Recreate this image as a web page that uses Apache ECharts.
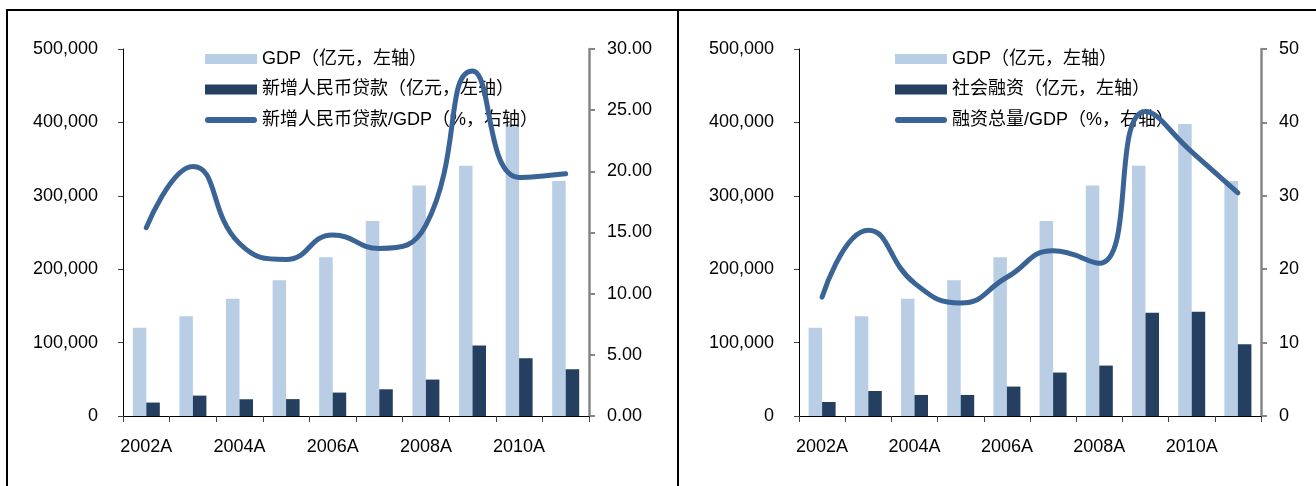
<!DOCTYPE html>
<html>
<head>
<meta charset="utf-8">
<script src="https://cdn.jsdelivr.net/npm/echarts@6/dist/echarts.min.js"></script>
<style>
  html, body { margin: 0; padding: 0; background: #fff; }
  #main { width: 1316px; height: 486px; }
</style>
</head>
<body>
<div id="main"></div>
<script>
	// 数据
	var years = ['2002A', '2003A', '2004A', '2005A', '2006A', '2007A', '2008A', '2009A', '2010A', '2011A'];
	var gdp = [120333, 135823, 159878, 184937, 216314, 265810, 314045, 340903, 397983, 320300]; //GDP 亿元
	var loans = [18300, 27800, 22800, 23000, 31900, 36400, 49600, 96000, 78700, 63700]; //新增人民币贷款 亿元
	var loanRatio = [15.4, 20.4, 14.1, 12.8, 14.8, 13.7, 15.6, 28.2, 19.5, 19.8]; //贷款/GDP %
	var financing = [19100, 34100, 28700, 28700, 40100, 59200, 68700, 140500, 141900, 97800]; //社会融资 亿元
	var financingRatio = [16.2, 25.3, 18.1, 15.4, 18.9, 22.5, 20.8, 41.5, 36.0, 30.4]; //融资总量/GDP %

	var nameGdp = 'GDP（亿元，左轴）';
	var nameLoans = '新增人民币贷款（亿元，左轴）';
	var nameLoanRatio = '新增人民币贷款/GDP（%，右轴）';
	var nameFin = '社会融资（亿元，左轴）';
	var nameFinRatio = '融资总量/GDP（%，右轴）';

	var cLight = '#B9CDE5';
	var cDark = '#243F60';
	var cLine = '#3A6496';
	var font = "'Liberation Sans', Arial, 'Noto Sans CJK SC', sans-serif";
	//图例里的粗线(圆头)
	var lineIcon = 'path://M3,0 L49,0 A3,3 0 0 1 49,6 L3,6 A3,3 0 0 1 3,0 Z';

	var dom = document.getElementById('main');
	var myChart = echarts.init(dom);

	function xAxis(gi) {
		return {
			type: 'category',
			gridIndex: gi,
			data: years,
			axisLine: { show: true, lineStyle: { color: '#000', width: 1 } },
			axisTick: { show: true, interval: 0, length: 6, lineStyle: { color: '#404040' } },
			axisLabel: { interval: 1, margin: 22, color: '#000', fontSize: 18, fontFamily: font },
			splitLine: { show: false }
		};
	}
	function leftAxis(gi) {
		return {
			type: 'value',
			gridIndex: gi,
			min: 0, max: 500000, interval: 100000,
			axisLine: { show: true, lineStyle: { color: '#000', width: 1 } },
			axisTick: { show: true, length: 5, lineStyle: { color: '#404040' } },
			axisLabel: {
				margin: 25, color: '#000', fontSize: 18, fontFamily: font,
				formatter: function (v) { return v.toLocaleString('en-US'); }
			},
			splitLine: { show: false }
		};
	}
	function rightAxis(gi, max, interval, digits) {
		return {
			type: 'value',
			gridIndex: gi,
			position: 'right',
			min: 0, max: max, interval: interval,
			axisLine: { show: true, lineStyle: { color: '#868686', width: 2.5 } },
			axisTick: { show: true, length: 6, lineStyle: { color: '#868686', width: 2 } },
			axisLabel: {
				margin: 18, color: '#000', fontSize: 18, fontFamily: font,
				formatter: function (v) { return v.toFixed(digits); }
			},
			splitLine: { show: false }
		};
	}
	function legend(left, names) {
		return {
			orient: 'vertical',
			left: left, top: 44,
			itemWidth: 52, itemHeight: 10, itemGap: 10.5,
			textStyle: { color: '#000', fontSize: 18, lineHeight: 20, fontFamily: font },
			data: [
				{ name: names[0], icon: 'rect' },
				{ name: names[1], icon: 'rect' },
				{ name: names[2], icon: lineIcon }
			]
		};
	}
	function bars(name, data, color, ai) {
		return {
			name: name, type: 'bar',
			xAxisIndex: ai, yAxisIndex: ai * 2,
			data: data,
			barWidth: 13.5, barGap: '0%',
			itemStyle: { color: color }
		};
	}
	function line(name, data, ai) {
		return {
			name: name, type: 'line',
			xAxisIndex: ai, yAxisIndex: ai * 2 + 1,
			data: data,
			smooth: true, symbol: 'none', z: 5,
			lineStyle: { color: cLine, width: 5, cap: 'round' },
			itemStyle: { color: cLine }
		};
	}

	var option = {
		animation: false,
		grid: [
			{ left: 123, top: 49, width: 466, height: 367 },
			{ left: 799, top: 49, width: 462, height: 367 }
		],
		legend: [
			legend(200, [nameGdp, nameLoans, nameLoanRatio]),
			legend(890, [nameGdp, nameFin, nameFinRatio])
		],
		xAxis: [xAxis(0), xAxis(1)],
		yAxis: [leftAxis(0), rightAxis(0, 30, 5, 2), leftAxis(1), rightAxis(1, 50, 10, 0)],
		series: [
			bars(nameGdp, gdp, cLight, 0),
			bars(nameLoans, loans, cDark, 0),
			line(nameLoanRatio, loanRatio, 0),
			bars(nameGdp, gdp, cLight, 1),
			bars(nameFin, financing, cDark, 1),
			line(nameFinRatio, financingRatio, 1)
		],
		graphic: [
			{ type: 'line', shape: { x1: 6, y1: 10, x2: 1316, y2: 10 }, style: { stroke: '#000', lineWidth: 2 } },
			{ type: 'line', shape: { x1: 7, y1: 10, x2: 7, y2: 486 }, style: { stroke: '#000', lineWidth: 2 } },
			{ type: 'line', shape: { x1: 678, y1: 10, x2: 678, y2: 486 }, style: { stroke: '#000', lineWidth: 2 } }
		]
	};
	myChart.setOption(option);
</script>
</body>
</html>
